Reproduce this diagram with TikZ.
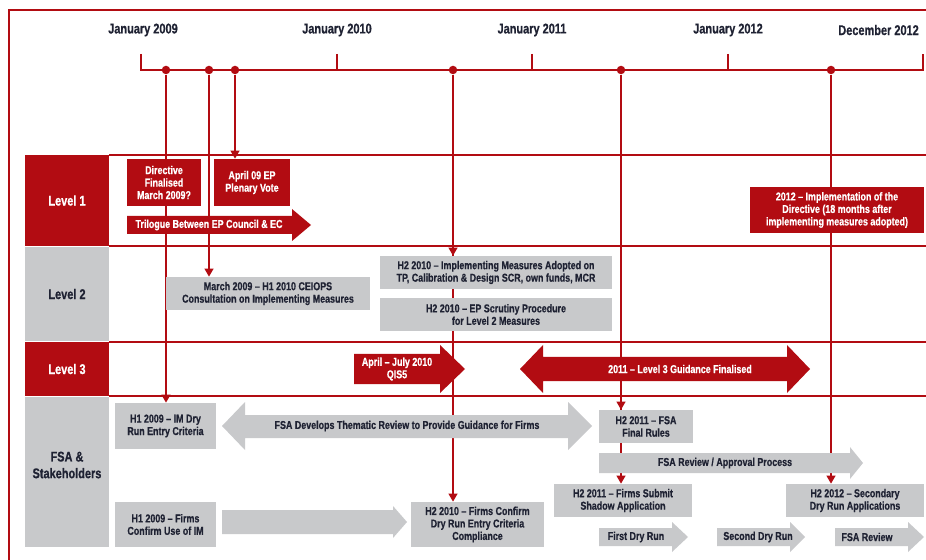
\documentclass[tikz,border=0pt]{standalone}
\usepackage{fontspec}
\setmainfont{Liberation Sans}[FakeStretch=0.78,BoldFeatures={FakeBold=0.6}]
\usepackage{tikz}
\usetikzlibrary{arrows.meta,backgrounds}
\definecolor{sred}{HTML}{B20C12}
\definecolor{sgray}{HTML}{C8C9CB}
\definecolor{sink}{HTML}{1F2233}

\begin{document}
\begin{tikzpicture}[x=0.02cm,y=-0.02cm,
  font=\bfseries\fontsize{6.5}{7.1}\selectfont,
  rule/.style={sred,line width=0.8pt},
  link/.style={sred,line width=0.8pt,-{Triangle[width=5pt,length=4.5pt]}},
  dot/.style={circle,fill=sred,inner sep=0pt,minimum size=0.17cm},
  redbox/.style={fill=sred,text=white,align=center,inner sep=1pt},
  graybox/.style={fill=sgray,text=sink,align=center,inner sep=1pt},
  lvlred/.style={text=white,align=center,font=\bfseries\fontsize{8}{9.5}\selectfont},
  lvlgray/.style={text=sink,align=center,font=\bfseries\fontsize{8}{9.5}\selectfont},
  month/.style={text=sink,font=\bfseries\fontsize{8}{8.5}\selectfont},
  onred/.style={text=white,align=center},
  ongray/.style={text=sink,align=center}]
\useasboundingbox (0,0) rectangle (926,560);

\draw[rule] (9,560) -- (9,10) -- (926,10);

\node[month] (m09) at (143,30) {January 2009};
\node[month] (m10) at (337,30) {January 2010};
\node[month] (m11) at (532,30) {January 2011};
\node[month] (m12) at (728,30) {January 2012};
\node[month,anchor=east] (mdec) at (925,30) {December 2012};
\draw[rule] (141,54) -- (141,70) -- (923,70) -- (923,54);
\foreach \x in {337,532,728} \draw[rule] (\x,54) -- (\x,70);
\foreach \n/\x in {d1/166,d2/209,d3/235,d4/453,d5/621,d6/831}
  \node[dot] (\n) at (\x,70) {};

\fill[sred] (25,155) rectangle (109,246);
\fill[sgray] (25,247) rectangle (109,341);
\fill[sred] (25,342) rectangle (109,396);
\fill[sgray] (25,397) rectangle (109,547);
\node[lvlred] (lvl1) at (67,200.5) {Level 1};
\node[lvlgray] (lvl2) at (67,294) {Level 2};
\node[lvlred] (lvl3) at (67,369) {Level 3};
\node[lvlgray] (fsa) at (67,465) {FSA \&\\Stakeholders};

% level 1
\node[redbox,minimum width=1.48cm,minimum height=0.94cm] (dir) at (164,182.5) {Directive\\Finalised\\March 2009?};
\node[redbox,minimum width=1.52cm,minimum height=0.94cm] (vote) at (252,182.5) {April 09 EP\\Plenary Vote};
\fill[sred] (127,216) -- (292,216) -- (292,209) -- (311,225) -- (292,241) -- (292,234) -- (127,234) -- cycle;
\node[onred] (tril) at (209,225) {Trilogue Between EP Council \& EC};
\node[redbox,minimum width=3.48cm,minimum height=0.92cm] (impl) at (837,210) {2012 -- Implementation of the\\Directive (18 months after\\implementing measures adopted)};

% level 2
\node[graybox,minimum width=4.08cm,minimum height=0.66cm] (ceiops) at (268,293.5) {March 2009 -- H1 2010 CEIOPS\\Consultation on Implementing Measures};
\node[graybox,minimum width=4.64cm,minimum height=0.66cm] (adopt) at (496,272.5) {H2 2010 -- Implementing Measures Adopted on\\TP, Calibration \& Design SCR, own funds, MCR};
\node[graybox,minimum width=4.64cm,minimum height=0.66cm] (scrut) at (496,314.5) {H2 2010 -- EP Scrutiny Procedure\\for Level 2 Measures};

% level 3
\fill[sred] (354,354) -- (440,354) -- (440,345) -- (465,369) -- (440,393) -- (440,384) -- (354,384) -- cycle;
\node[onred] (qis) at (397,369) {April -- July 2010\\QIS5};
\fill[sred] (520,369) -- (543,345) -- (543,357) -- (787,357) -- (787,345) -- (810,369) -- (787,393) -- (787,381) -- (543,381) -- (543,393) -- cycle;
\node[onred] (guid) at (680,369) {2011 -- Level 3 Guidance Finalised};

% fsa & stakeholders
\node[graybox,minimum width=2.02cm,minimum height=0.92cm] (imdry) at (165.5,426) {H1 2009 -- IM Dry\\Run Entry Criteria};
\node[graybox,minimum width=2.02cm,minimum height=0.9cm] (useim) at (165.5,524.5) {H1 2009 -- Firms\\Confirm Use of IM};
\node[graybox,minimum width=2.66cm,minimum height=0.9cm] (confirm) at (477.5,524.5) {H2 2010 -- Firms Confirm\\Dry Run Entry Criteria\\Compliance};
\fill[sgray] (222,426) -- (245,402) -- (245,415) -- (568,415) -- (568,402) -- (592,426) -- (568,450) -- (568,438) -- (245,438) -- (245,450) -- cycle;
\node[ongray] (thema) at (407,426) {FSA Develops Thematic Review to Provide Guidance for Firms};
\fill[sgray] (222,510) -- (393,510) -- (393,506) -- (407,522) -- (393,538) -- (393,534) -- (222,534) -- cycle;
\node[graybox,minimum width=1.88cm,minimum height=0.66cm] (rules) at (646,426.5) {H2 2011 -- FSA\\Final Rules};
\fill[sgray] (599,453) -- (850,453) -- (850,447) -- (863,463) -- (850,479) -- (850,473) -- (599,473) -- cycle;
\node[ongray] (review) at (725,463) {FSA Review / Approval Process};
\node[graybox,minimum width=2.76cm,minimum height=0.66cm] (shadow) at (623,500.5) {H2 2011 -- Firms Submit\\Shadow Application};
\node[graybox,minimum width=2.76cm,minimum height=0.66cm] (second) at (855,500.5) {H2 2012 -- Secondary\\Dry Run Applications};
\fill[sgray] (599,528) -- (672,528) -- (672,522) -- (688,537) -- (672,552) -- (672,546) -- (599,546) -- cycle;
\node[ongray] (dry1) at (636,537) {First Dry Run};
\fill[sgray] (717,528) -- (790,528) -- (790,522) -- (805,537) -- (790,552) -- (790,546) -- (717,546) -- cycle;
\node[ongray] (dry2) at (758,537) {Second Dry Run};
\fill[sgray] (835,528) -- (908,528) -- (908,522) -- (924,537) -- (908,552) -- (908,546) -- (835,546) -- cycle;
\node[ongray] (fsarev) at (867,537) {FSA Review};

\begin{scope}[on background layer]
\foreach \y in {155,246,342,396} \draw[rule] (109,\y) -- (926,\y);
\draw[link] (d1) -- (imdry.north -| d1);
\draw[link] (d2) -- (ceiops.north -| d2);
\draw[link] (d3) -- (vote.north -| d3);
\draw[link] (d4) -- (adopt.north -| d4);
\draw[link] (d4) -- (confirm.north -| d4);
\draw[link] (d5) -- (rules.north -| d5);
\draw[link] (d5) -- (shadow.north -| d5);
\draw[link] (d6) -- (second.north -| d6);
\end{scope}
\end{tikzpicture}
\end{document}
